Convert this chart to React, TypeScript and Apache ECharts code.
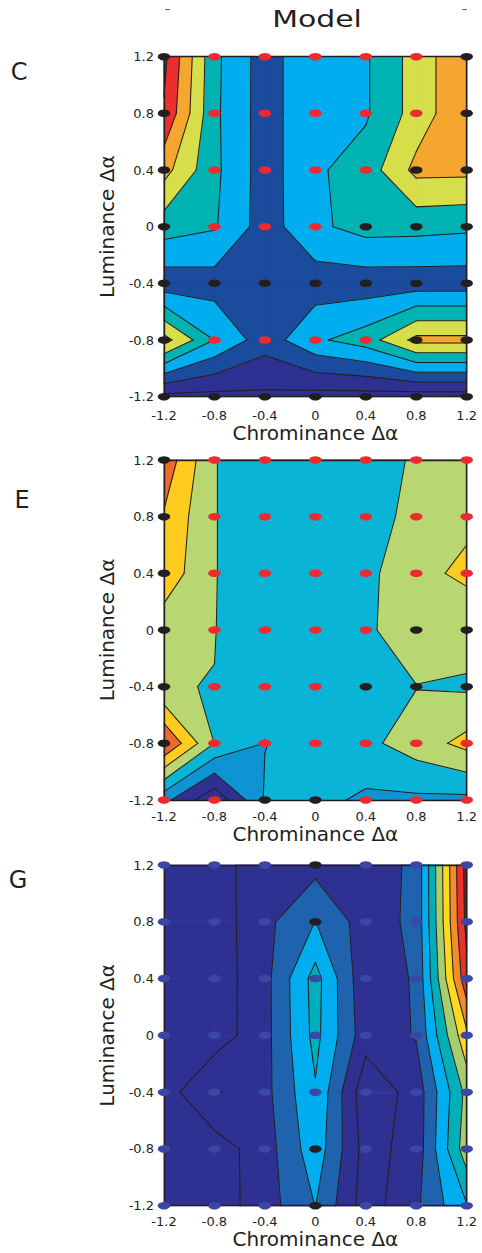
import React, { useEffect, useRef } from 'react';
import * as echarts from 'echarts';

// ---------- shared axes ----------
const xTicks = [-1.2, -0.8, -0.4, 0, 0.4, 0.8, 1.2];
const yTicks = [1.2, 0.8, 0.4, 0, -0.4, -0.8, -1.2]; // rows, top to bottom
const tickLabels = ['-1.2', '-0.8', '-0.4', '0', '0.4', '0.8', '1.2'];

// ---------- panel C ----------
const cLevels = [1, 2, 3, 4, 5, 6, 7, 8];
const cColors = ['#2E3192', '#2E3192', '#1B4B9C', '#00AEEF', '#00B3B3', '#D6DF4A', '#F4A62E', '#EC2F2D', '#A01E22'];
const cValues = [
  [8.24, 4.24, 2.52, 3.85, 3.88, 5.42, 6.9],
  [7.9, 4.2, 2.52, 3.85, 3.88, 5.42, 6.9],
  [6.36, 4.23, 2.52, 3.85, 4.45, 6.28, 6.25],
  [4.47, 4.1, 2.52, 3.8, 4.37, 4.31, 4.19],
  [2.4, 2.55, 2.3, 2.48, 2.44, 2.46, 2.46],
  [6.38, 3.98, 2.45, 3.83, 4.5, 6.3, 6.3],
  [0.7, 0.7, 0.8, 0.64, 0.6, 0.5, 0.5],
];
const cDots = ['krrrrrk', 'krrrrrk', 'krrrrkk', 'krrrkkk', 'kkkkkkk', 'krrrrkk', 'kkkkkkk'];

// ---------- panel E ----------
const eLevels = [1, 2, 3, 4, 5, 6];
const eColors = ['#2E3192', '#2E3192', '#0E93D3', '#0AB4D6', '#B8D770', '#FDCC1E', '#EF6A2A'];
const eValues = [
  [6.67, 4.05, 3.2, 3.3, 3.3, 4.19, 4.4],
  [5.9, 4.05, 3.2, 3.3, 3.3, 4.49, 4.85],
  [5.63, 4.05, 3.2, 3.3, 3.7, 4.8, 5.15],
  [4.44, 4.03, 3.2, 3.3, 3.8, 4.7, 4.5],
  [4.04, 3.98, 3.3, 3.4, 3.5, 3.97, 3.85],
  [7.06, 3.98, 2.98, 3.3, 3.75, 4.5, 5.31],
  [2.3, 0.21, 3.1, 3.3, 2.81, 2.8, 2.75],
];
const eDots = ['krrrrrr', 'krrrrrr', 'krrrrrr', 'krrrrkk', 'krrrkkk', 'krrrrrr', 'rrkkrrr'];

// ---------- panel G ----------
const gLevels = [1, 2, 3, 4, 5, 6, 7, 8, 9];
const gColors = ['#2E3192', '#2E3192', '#1F63AF', '#00AEEF', '#00AFBA', '#A6CE6F', '#F9DA1F', '#F28C2F', '#E7342A', '#971B1E'];
const gValues = [
  [0.45, 0.45, 1.73, 1.67, 1.4, 2.24, 9.43],
  [0.45, 0.45, 1.72, 3.02, 1.5, 2.24, 9.3],
  [0.45, 0.45, 1.66, 4.39, 1.2, 2.14, 8.72],
  [0.45, 0.47, 1.66, 4.3, 1.4, 2.07, 6.8],
  [0.52, 2.06, 1.69, 3.9, 0.3, 1.4, 5.3],
  [0.45, 0.49, 1.52, 3.6, 0.6, 1.4, 5.6],
  [0.45, 0.45, 1.53, 3.02, 0.5, 1.83, 3.94],
];
const gDots = ['bbbkbbb', 'bbbkbbb', 'bbbbbbb', 'bbbbbbb', 'bbbbbbb', 'bbbkbbb', 'bbbkbbb'];

const panelLetters = ['C', 'E', 'G'];
const xName = 'Chrominance Δα';
const yName = 'Luminance Δα';
const titleText = 'Model';

// ---------- layout / style (kept apart from data) ----------
const INK = '#231F20';
const FONT = 'DejaVu Sans';
const dotColor: Record<string, string> = { r: '#EE2A2E', k: '#231F20', b: '#3A47A5' };
const layout = [
  { top: 56.7, height: 340, labelMargin: 12, nameGap: 26, lx: 19, ly: 72 },
  { top: 460, height: 340, labelMargin: 10, nameGap: 23, lx: 22, ly: 500 },
  { top: 865, height: 340.7, labelMargin: 9, nameGap: 20, lx: 18, ly: 880 },
];
const GRID_LEFT = 164;
const GRID_WIDTH = 302.7;

type Pt = number[];

function lerp(a: Pt, b: Pt, t: number): Pt {
  return [a[0] + (b[0] - a[0]) * t, a[1] + (b[1] - a[1]) * t];
}
function crossing(P: Pt[], v: number[], L: number, e: number): Pt {
  const j = (e + 1) % 4;
  const t = (L - v[e]) / (v[j] - v[e]);
  return lerp(P[e], P[j], t);
}
function regionAbove(P: Pt[], v: number[], L: number): Pt[][] {
  const ins = v.map((x) => x >= L);
  const n = ins.filter(Boolean).length;
  if (n === 0) return [];
  if (n === 4) return [P];
  const saddle = n === 2 && ins[0] === ins[2];
  if (saddle) {
    const c = (v[0] + v[1] + v[2] + v[3]) / 4;
    if (c < L) {
      const res: Pt[][] = [];
      for (let i = 0; i < 4; i++) {
        if (ins[i]) res.push([crossing(P, v, L, (i + 3) % 4), P[i], crossing(P, v, L, i)]);
      }
      return res;
    }
  }
  const out: Pt[] = [];
  for (let i = 0; i < 4; i++) {
    const j = (i + 1) % 4;
    if (ins[i]) out.push(P[i]);
    if (ins[i] !== ins[j]) out.push(crossing(P, v, L, i));
  }
  return [out];
}
function contourSegments(P: Pt[], v: number[], L: number): Pt[][] {
  const ins = v.map((x) => x >= L);
  const n = ins.filter(Boolean).length;
  if (n === 0 || n === 4) return [];
  const saddle = n === 2 && ins[0] === ins[2];
  if (saddle) {
    const c = (v[0] + v[1] + v[2] + v[3]) / 4;
    const cutHigh = c < L;
    const segs: Pt[][] = [];
    for (let i = 0; i < 4; i++) {
      if (ins[i] === cutHigh) segs.push([crossing(P, v, L, (i + 3) % 4), crossing(P, v, L, i)]);
    }
    return segs;
  }
  const pts: Pt[] = [];
  for (let i = 0; i < 4; i++) {
    const j = (i + 1) % 4;
    if (ins[i] !== ins[j]) pts.push(crossing(P, v, L, i));
  }
  return pts.length === 2 ? [[pts[0], pts[1]]] : [];
}

function cellItems(values: number[][]) {
  const items: number[][] = [];
  for (let j = 0; j < yTicks.length - 1; j++) {
    for (let i = 0; i < xTicks.length - 1; i++) {
      items.push([
        xTicks[i], yTicks[j], xTicks[i + 1], yTicks[j + 1],
        values[j][i], values[j][i + 1], values[j + 1][i + 1], values[j + 1][i],
      ]);
    }
  }
  return items;
}

function fmtTick(val: number) {
  const i = xTicks.findIndex((t) => Math.abs(t - val) < 1e-6);
  return i >= 0 ? tickLabels[i] : '';
}

function cornerPoints(api: any, off: number): Pt[] {
  const xL = api.value(off), yT = api.value(off + 1), xR = api.value(off + 2), yB = api.value(off + 3);
  return [api.coord([xL, yT]), api.coord([xR, yT]), api.coord([xR, yB]), api.coord([xL, yB])];
}

function buildOption() {
  const panels = [
    { values: cValues, levels: cLevels, colors: cColors, dots: cDots },
    { values: eValues, levels: eLevels, colors: eColors, dots: eDots },
    { values: gValues, levels: gLevels, colors: gColors, dots: gDots },
  ];
  const grid: any[] = [];
  const xAxis: any[] = [];
  const yAxis: any[] = [];
  const series: any[] = [];
  const graphic: any[] = [];

  panels.forEach((p, pi) => {
    const lay = layout[pi];
    grid.push({ left: GRID_LEFT, top: lay.top, width: GRID_WIDTH, height: lay.height, containLabel: false });
    const axisBase = {
      type: 'value', gridIndex: pi, min: -1.2, max: 1.2, interval: 0.4,
      axisTick: { show: false }, splitLine: { show: false },
      axisLine: { show: true, onZero: false, lineStyle: { color: INK, width: 1.4 } },
      z: 3,
    };
    xAxis.push({
      ...axisBase, position: 'bottom',
      axisLabel: { formatter: fmtTick, fontSize: 13, color: INK, fontFamily: FONT, margin: lay.labelMargin },
      name: xName, nameLocation: 'middle', nameGap: lay.nameGap,
      nameTextStyle: { fontSize: 20, color: INK, fontFamily: FONT },
    });
    xAxis.push({ ...axisBase, position: 'top', axisLabel: { show: false } });
    yAxis.push({
      ...axisBase, position: 'left',
      axisLabel: { formatter: fmtTick, fontSize: 13, color: INK, fontFamily: FONT, margin: 10 },
      name: yName, nameLocation: 'middle', nameGap: 47, nameRotate: 90,
      nameTextStyle: { fontSize: 20, color: INK, fontFamily: FONT },
    });
    yAxis.push({ ...axisBase, position: 'right', axisLabel: { show: false } });

    const cells = cellItems(p.values);
    const fillData: number[][] = [];
    for (let k = 0; k <= p.levels.length; k++) cells.forEach((c) => fillData.push([k, ...c]));

    series.push({
      type: 'custom', xAxisIndex: 2 * pi, yAxisIndex: 2 * pi, z: 1, silent: true,
      encode: { x: [1, 3], y: [2, 4] },
      data: fillData,
      renderItem: (params: any, api: any) => {
        const k = api.value(0);
        const P = cornerPoints(api, 1);
        const v = [api.value(5), api.value(6), api.value(7), api.value(8)];
        const color = p.colors[k];
        const polys = k === 0 ? [P] : regionAbove(P, v, p.levels[k - 1]);
        return {
          type: 'group',
          children: polys.map((pts) => ({
            type: 'polygon', z2: k, silent: true,
            shape: { points: pts },
            style: { fill: color, stroke: color, lineWidth: 0.7 },
          })),
        };
      },
    });

    series.push({
      type: 'custom', xAxisIndex: 2 * pi, yAxisIndex: 2 * pi, z: 2, silent: true,
      encode: { x: [0, 2], y: [1, 3] },
      data: cells,
      renderItem: (params: any, api: any) => {
        const P = cornerPoints(api, 0);
        const v = [api.value(4), api.value(5), api.value(6), api.value(7)];
        const children: any[] = [];
        p.levels.forEach((L) => {
          contourSegments(P, v, L).forEach((s) => {
            children.push({
              type: 'line', silent: true,
              shape: { x1: s[0][0], y1: s[0][1], x2: s[1][0], y2: s[1][1] },
              style: { stroke: INK, lineWidth: 1.05, lineCap: 'round' },
            });
          });
        });
        return { type: 'group', children };
      },
    });

    const dotData: any[] = [];
    yTicks.forEach((yv, j) => {
      xTicks.forEach((xv, i) => {
        dotData.push({ value: [xv, yv], itemStyle: { color: dotColor[p.dots[j][i]], opacity: 1 } });
      });
    });
    series.push({
      type: 'scatter', xAxisIndex: 2 * pi, yAxisIndex: 2 * pi, z: 4, silent: true, clip: false,
      symbol: 'circle', symbolSize: [12.5, 7.5],
      itemStyle: { opacity: 1 },
      data: dotData,
    });

    graphic.push({
      type: 'text', x: lay.lx, y: lay.ly, silent: true,
      style: {
        text: panelLetters[pi], fill: INK, font: `24px "${FONT}"`,
        textAlign: 'center', textVerticalAlign: 'middle', align: 'center', verticalAlign: 'middle',
      },
    });
  });

  graphic.push({
    type: 'text', x: 317, y: 19, scaleX: 1.3, silent: true,
    style: {
      text: titleText, fill: INK, font: `23px "${FONT}"`,
      textAlign: 'center', textVerticalAlign: 'middle', align: 'center', verticalAlign: 'middle',
    },
  });
  graphic.push({ type: 'line', silent: true, shape: { x1: 165, y1: 9.5, x2: 170, y2: 9.5 }, style: { stroke: '#666', lineWidth: 1 } });
  graphic.push({ type: 'line', silent: true, shape: { x1: 462.5, y1: 9.5, x2: 467, y2: 9.5 }, style: { stroke: '#666', lineWidth: 1 } });

  return {
    animation: false,
    backgroundColor: '#ffffff',
    grid, xAxis, yAxis, series, graphic,
  };
}

export default function App() {
  const ref = useRef<HTMLDivElement>(null);
  useEffect(() => {
    if (!ref.current) return;
    const chart = echarts.init(ref.current, undefined, { renderer: 'svg' });
    chart.setOption(buildOption() as any);
    return () => chart.dispose();
  }, []);
  return <div ref={ref} style={{ position: 'absolute', left: 0, top: 0, width: 482, height: 1253 }} />;
}
